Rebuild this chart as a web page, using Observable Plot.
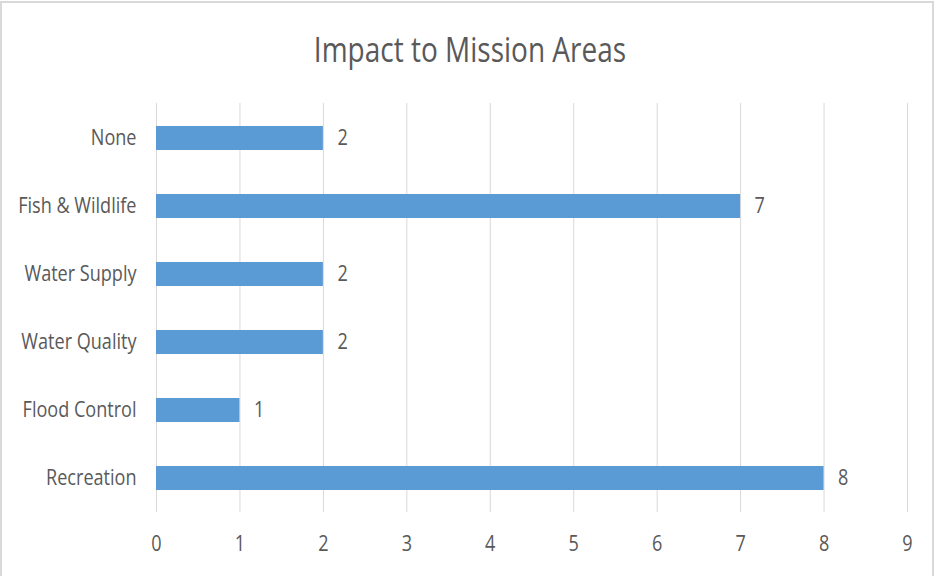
<!DOCTYPE html>
<html>
<head>
<meta charset="utf-8">
<script src="https://cdn.jsdelivr.net/npm/d3@7"></script>
<script src="https://cdn.jsdelivr.net/npm/@observablehq/plot@0.6"></script>
<style>
  html, body { margin: 0; padding: 0; background: #fff; overflow: hidden; }
  #wrap { position: relative; width: 938px; height: 576px; }
  #frame { position: absolute; left: 0; top: 1px; width: 934px; height: 620px; border: 2px solid #d9d9d9; box-sizing: border-box; pointer-events: none; }
  #chart svg { position: absolute; left: 0; top: 0; }
</style>
</head>
<body>
<div id="wrap">
  <div id="chart"></div>
  <div id="frame"></div>
</div>
<script>
const title = "Impact to Mission Areas";
const categories = ["None", "Fish & Wildlife", "Water Supply", "Water Quality", "Flood Control", "Recreation"];
const values = [2, 7, 2, 2, 1, 8];
const xTicks = [0, 1, 2, 3, 4, 5, 6, 7, 8, 9];

const data = categories.map((c, i) => ({category: c, value: values[i]}));
const font = "'Open Sans', sans-serif";

const chart = Plot.plot({
  width: 938,
  height: 576,
  marginTop: 103,
  marginBottom: 64,
  marginLeft: 156,
  marginRight: 31,
  style: {fontFamily: font, fontSize: "21px", color: "#595959", background: "transparent"},
  x: {domain: [0, 9], ticks: xTicks, label: null, tickSize: 0, tickPadding: 24},
  y: {domain: categories, paddingInner: 0.648, paddingOuter: 0.324, label: null, tickSize: 0, tickPadding: 20},
  marks: [
    Plot.gridX(xTicks, {stroke: "#d9d9d9", strokeOpacity: 1, strokeWidth: 1}),
    Plot.barX(data, {x: "value", y: "category", fill: "#5b9bd5"}),
    Plot.text(data, {x: "value", y: "category", text: d => String(d.value), textAnchor: "start", dx: 14, fill: "#595959", fontSize: 21}),
    Plot.text([title], {frameAnchor: "top", dx: -62, dy: -66, text: d => d, fontSize: 35, fill: "#595959"})
  ]
});

document.getElementById("chart").appendChild(chart);

// narrow the glyphs in place to imitate the condensed chart font
d3.select(chart).selectAll("text").each(function() {
  const len = this.getComputedTextLength();
  const s = this.textContent === title ? 0.8 : 0.86;
  if (len > 0) {
    this.setAttribute("textLength", (len * s).toFixed(2));
    this.setAttribute("lengthAdjust", "spacingAndGlyphs");
  }
});
</script>
</body>
</html>
